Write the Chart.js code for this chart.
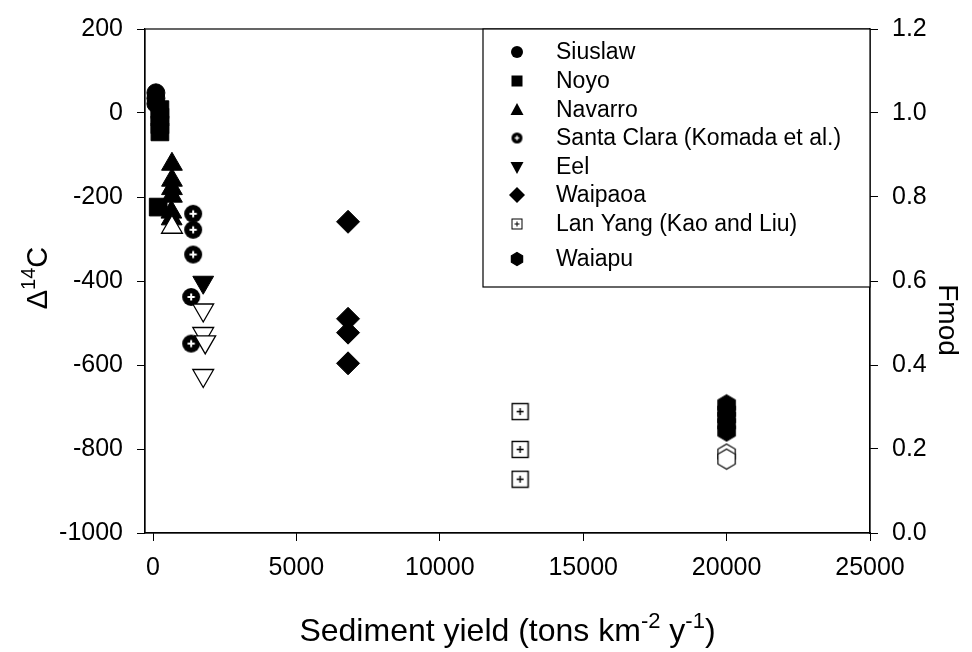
<!DOCTYPE html>
<html>
<head>
<meta charset="utf-8">
<script src="https://cdn.jsdelivr.net/npm/chart.js@4/dist/chart.umd.min.js"></script>
<style>
  html, body { margin: 0; padding: 0; background: #fff; }
  #wrap { width: 972px; height: 652px; }
</style>
</head>
<body>
<div id="wrap"><canvas id="c" width="972" height="652"></canvas></div>
<script>
const FONT = '"Liberation Sans", Arial, Helvetica, sans-serif';

// Sediment yield (tons km^-2 y^-1) and Δ14C (‰) for each river
const siuslawYield = [100, 100, 100];
const siuslawD14C = [48, 35, 22];
const noyoYield = [240, 240, 240, 240, 180];
const noyoD14C = [8, -10, -28, -45, -224];
const navarroYield = [660, 660, 660, 660, 640, 650];
const navarroD14C = [-122, -160, -180, -198, -236, -252];
const navarroOpenYield = [660];
const navarroOpenD14C = [-272];
const santaClaraYield = [1400, 1400, 1400, 1330, 1330];
const santaClaraD14C = [-240, -278, -337, -438, -549];
const eelYield = [1750];
const eelD14C = [-403];
const eelOpenYield = [1750, 1750, 1820, 1750];
const eelOpenD14C = [-469, -525, -545, -625];
const waipaoaYield = [6800, 6800, 6800, 6800];
const waipaoaD14C = [-259, -490, -523, -596];
const lanYangYield = [12800, 12800, 12800];
const lanYangD14C = [-711, -801, -872];
const waiapuYield = [20000, 20000, 20000, 20000, 20000];
const waiapuD14C = [-695, -710, -725, -740, -757];
const waiapuOpenYield = [20000, 20000];
const waiapuOpenD14C = [-812, -824];

// Axis ticks
const yieldTicks = [0, 5000, 10000, 15000, 20000, 25000];
const d14cTicks = [-1000, -800, -600, -400, -200, 0, 200];
const fmodTicks = [0, 0.2, 0.4, 0.6, 0.8, 1.0, 1.2];

// Legend entries
const legendLabels = ['Siuslaw', 'Noyo', 'Navarro', 'Santa Clara (Komada et al.)',
                      'Eel', 'Waipaoa', 'Lan Yang (Kao and Liu)', 'Waiapu'];

function pts(xs, ys) { return xs.map((x, i) => ({ x: x, y: ys[i] })); }

// ---- custom marker sprites ----
function sprite(size, draw) {
  const c = document.createElement('canvas');
  c.width = size; c.height = size;
  draw(c.getContext('2d'), size / 2);
  return c;
}
function circlePlus(r, arm, lw) {
  return sprite(Math.ceil(2 * r + 2), (g, m) => {
    g.fillStyle = '#000';
    g.beginPath(); g.arc(m, m, r, 0, Math.PI * 2); g.fill();
    g.strokeStyle = '#fff'; g.lineWidth = lw;
    g.beginPath();
    g.moveTo(m - arm, m); g.lineTo(m + arm, m);
    g.moveTo(m, m - arm); g.lineTo(m, m + arm);
    g.stroke();
  });
}
function squarePlus(side, arm, lw) {
  return sprite(Math.ceil(side + 3), (g, m) => {
    g.fillStyle = '#fff';
    g.fillRect(m - side / 2, m - side / 2, side, side);
    g.strokeStyle = '#000'; g.lineWidth = lw;
    g.strokeRect(m - side / 2, m - side / 2, side, side);
    g.beginPath();
    g.moveTo(m - arm, m); g.lineTo(m + arm, m);
    g.moveTo(m, m - arm); g.lineTo(m, m + arm);
    g.stroke();
  });
}
function hexPath(g, cx, cy, r) {
  g.beginPath();
  for (let k = 0; k < 6; k++) {
    const a = -Math.PI / 2 + k * Math.PI / 3;
    const px = cx + r * Math.cos(a), py = cy + r * Math.sin(a);
    if (k === 0) g.moveTo(px, py); else g.lineTo(px, py);
  }
  g.closePath();
}
function hexagon(r, filled) {
  return sprite(Math.ceil(2 * r + 3), (g, m) => {
    hexPath(g, m, m, r);
    g.fillStyle = filled ? '#000' : '#fff';
    g.fill();
    g.strokeStyle = '#000'; g.lineWidth = 1.2;
    g.stroke();
  });
}

const circlePlusBig = circlePlus(9, 3.6, 2);
const squarePlusBig = squarePlus(16, 3.5, 1.4);
const hexFilledBig = hexagon(10, true);
const hexOpenBig = hexagon(10, false);
const circlePlusSmall = circlePlus(5.5, 2.2, 1.4);
const squarePlusSmall = squarePlus(10, 2.5, 1);
const hexFilledSmall = hexagon(6.5, true);

const solid = { backgroundColor: '#000', borderColor: '#000', borderWidth: 1 };
const hollow = { backgroundColor: '#fff', borderColor: '#000', borderWidth: 1.3 };

const datasets = [
  { label: 'Navarro open', data: pts(navarroOpenYield, navarroOpenD14C), pointStyle: 'triangle', pointRadius: 12, order: 0, ...hollow },
  { label: 'Eel open', data: pts(eelOpenYield, eelOpenD14C), pointStyle: 'triangle', rotation: 180, pointRadius: 12, order: 0, ...hollow },
  { label: 'Waiapu open', data: pts(waiapuOpenYield, waiapuOpenD14C), pointStyle: hexOpenBig, pointRadius: 10, order: 0, ...hollow },
  { label: 'Siuslaw', data: pts(siuslawYield, siuslawD14C), pointStyle: 'circle', pointRadius: 9, order: 1, ...solid },
  { label: 'Noyo', data: pts(noyoYield, noyoD14C), pointStyle: 'rect', pointRadius: 12.5, order: 1, ...solid },
  { label: 'Navarro', data: pts(navarroYield, navarroD14C), pointStyle: 'triangle', pointRadius: 12, order: 1, ...solid },
  { label: 'Santa Clara (Komada et al.)', data: pts(santaClaraYield, santaClaraD14C), pointStyle: circlePlusBig, pointRadius: 9, order: 1, ...solid },
  { label: 'Eel', data: pts(eelYield, eelD14C), pointStyle: 'triangle', rotation: 180, pointRadius: 12, order: 1, ...solid },
  { label: 'Waipaoa', data: pts(waipaoaYield, waipaoaD14C), pointStyle: 'rectRot', pointRadius: 11.5, order: 1, ...solid },
  { label: 'Lan Yang (Kao and Liu)', data: pts(lanYangYield, lanYangD14C), pointStyle: squarePlusBig, pointRadius: 8, order: 1, ...solid },
  { label: 'Waiapu', data: pts(waiapuYield, waiapuD14C), pointStyle: hexFilledBig, pointRadius: 10, order: 1, ...solid }
];

// ---- legend marker drawing ----
function legendMarker(ctx, i, x, y) {
  ctx.save();
  ctx.fillStyle = '#000'; ctx.strokeStyle = '#000'; ctx.lineWidth = 1;
  ctx.beginPath();
  switch (i) {
    case 0: ctx.arc(x, y, 6, 0, Math.PI * 2); ctx.fill(); break;
    case 1: ctx.fillRect(x - 5.5, y - 5.5, 11, 11); break;
    case 2: ctx.moveTo(x, y - 7); ctx.lineTo(x + 6.5, y + 5); ctx.lineTo(x - 6.5, y + 5); ctx.closePath(); ctx.fill(); break;
    case 3: ctx.drawImage(circlePlusSmall, x - circlePlusSmall.width / 2, y - circlePlusSmall.height / 2); break;
    case 4: ctx.moveTo(x - 6.5, y - 5); ctx.lineTo(x + 6.5, y - 5); ctx.lineTo(x, y + 7); ctx.closePath(); ctx.fill(); break;
    case 5: ctx.moveTo(x, y - 8); ctx.lineTo(x + 8, y); ctx.lineTo(x, y + 8); ctx.lineTo(x - 8, y); ctx.closePath(); ctx.fill(); break;
    case 6: ctx.drawImage(squarePlusSmall, x - squarePlusSmall.width / 2, y - squarePlusSmall.height / 2); break;
    case 7: ctx.drawImage(hexFilledSmall, x - hexFilledSmall.width / 2, y - hexFilledSmall.height / 2); break;
  }
  ctx.restore();
}

// text with superscript runs: parts = [[text, isSup], ...]
function richWidth(ctx, parts, size) {
  let w = 0;
  for (const [t, sup] of parts) {
    ctx.font = (sup ? Math.round(size * 0.68) : size) + 'px ' + FONT;
    w += ctx.measureText(t).width;
  }
  return w;
}
function drawRich(ctx, parts, x, y, size) {
  const total = richWidth(ctx, parts, size);
  let cx = x - total / 2;
  ctx.textAlign = 'left';
  ctx.textBaseline = 'alphabetic';
  for (const [t, sup] of parts) {
    ctx.font = (sup ? Math.round(size * 0.68) : size) + 'px ' + FONT;
    ctx.fillText(t, cx, sup ? y - size * 0.42 : y);
    cx += ctx.measureText(t).width;
  }
}

const decorations = {
  id: 'decorations',
  afterDraw(chart) {
    const ctx = chart.ctx;
    const a = chart.chartArea;
    ctx.save();
    // plot frame
    ctx.strokeStyle = '#000';
    ctx.lineWidth = 1.2;
    ctx.strokeRect(a.left, a.top, a.right - a.left, a.bottom - a.top);

    // legend box
    const bx = 483, by = a.top, bw = a.right - 483, bh = 287 - a.top;
    ctx.fillStyle = '#fff';
    ctx.fillRect(bx, by, bw, bh);
    ctx.strokeRect(bx, by, bw, bh);
    const rows = [52, 81, 110, 138, 167, 195, 224, 259];
    legendLabels.forEach((lab, i) => {
      legendMarker(ctx, i, 517, rows[i]);
      ctx.fillStyle = '#000';
      ctx.font = '23px ' + FONT;
      ctx.textBaseline = 'middle';
      ctx.textAlign = 'left';
      ctx.fillText(lab, 556, rows[i] + 1);
    });

    // axis titles
    ctx.fillStyle = '#000';
    drawRich(ctx, [['Sediment yield (tons km', false], ['-2', true], [' y', false], ['-1', true], [')', false]],
             (a.left + a.right) / 2, 641, 32);

    ctx.save();
    ctx.translate(47, 278);
    ctx.rotate(-Math.PI / 2);
    drawRich(ctx, [['\u0394', false], ['14', true], ['C', false]], 0, 0, 29);
    ctx.restore();

    ctx.save();
    ctx.translate(939, 320);
    ctx.rotate(Math.PI / 2);
    drawRich(ctx, [['Fmod', false]], 0, 0, 28);
    ctx.restore();

    ctx.restore();
  }
};

const tickFont = { family: FONT, size: 25 };
const axisGrid = { display: true, drawOnChartArea: false, drawTicks: true, tickLength: 8, color: '#000', lineWidth: 1 };
const axisBorder = { display: true, color: '#000', width: 1.2 };

new Chart(document.getElementById('c'), {
  type: 'scatter',
  data: { datasets: datasets },
  options: {
    responsive: false,
    animation: false,
    events: [],
    layout: { padding: { top: 26, left: 0, right: 0, bottom: 0 } },
    plugins: { legend: { display: false }, tooltip: { enabled: false }, title: { display: false } },
    scales: {
      x: {
        type: 'linear', position: 'bottom', min: -280, max: 25000,
        afterBuildTicks: s => { s.ticks = yieldTicks.map(v => ({ value: v })); },
        afterFit: s => { s.height = 119; },
        ticks: { font: tickFont, color: '#000', padding: 12, maxRotation: 0, callback: v => String(v) },
        grid: axisGrid, border: axisBorder
      },
      y: {
        type: 'linear', position: 'left', min: -1000, max: 200,
        afterBuildTicks: s => { s.ticks = d14cTicks.map(v => ({ value: v })); },
        afterFit: s => { s.width = 145; },
        ticks: { font: tickFont, color: '#000', padding: 14, callback: v => String(v) },
        grid: axisGrid, border: axisBorder
      },
      y2: {
        type: 'linear', position: 'right', min: 0, max: 1.2,
        afterBuildTicks: s => { s.ticks = fmodTicks.map(v => ({ value: v })); },
        afterFit: s => { s.width = 102; },
        ticks: { font: tickFont, color: '#000', padding: 14, callback: v => Number(v).toFixed(1) },
        grid: axisGrid, border: axisBorder
      }
    }
  },
  plugins: [decorations]
});
</script>
</body>
</html>
